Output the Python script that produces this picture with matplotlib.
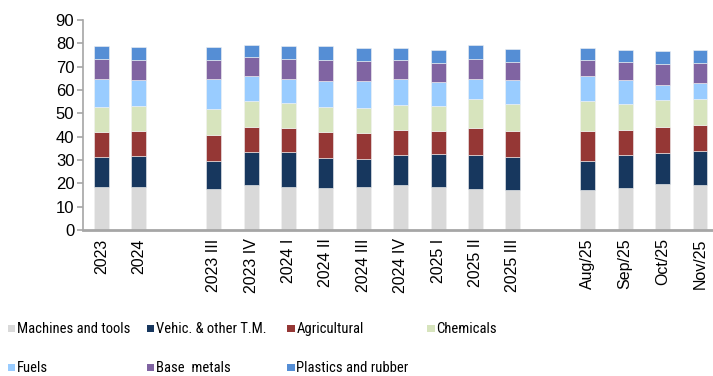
import matplotlib
matplotlib.use("Agg")
import matplotlib.pyplot as plt
from matplotlib.patches import Rectangle

plt.rcParams["font.family"] = ["Liberation Sans", "DejaVu Sans"]

labels = ["2023", "2024", "", "2023 III", "2023 IV", "2024 I", "2024 II", "2024 III",
          "2024 IV", "2025 I", "2025 II", "2025 III", "", "Aug/25", "Sep/25", "Oct/25", "Nov/25"]

categories = ["Machines and tools", "Vehic. & other T.M.", "Agricultural", "Chemicals",
              "Fuels", "Base  metals", "Plastics and rubber"]
colors = ["#D9D9D9", "#17375E", "#953735", "#D7E4BD", "#99CCFF", "#8064A2", "#558ED5"]

# one entry per slot, None where the gap between groups goes
machines = [18.3, 18.6, None, 17.6, 19.3, 18.6, 18.1, 18.4, 19.4, 18.3, 17.7, 17.3, None, 17.0, 17.9, 19.7, 19.4]
vehicles = [12.8, 13.3, None, 12.1, 14.3, 14.7, 12.9, 12.2, 12.6, 14.1, 14.3, 14.1, None, 12.7, 14.1, 13.4, 14.3]
agricultural = [10.8, 10.7, None, 10.9, 10.7, 10.6, 10.9, 10.8, 10.9, 10.2, 11.9, 11.2, None, 12.9, 11.0, 11.2, 11.2]
chemicals = [11.0, 10.7, None, 11.1, 11.0, 10.7, 11.0, 11.0, 10.8, 10.7, 12.1, 11.5, None, 12.8, 10.9, 11.3, 11.2]
fuels = [12.0, 11.1, None, 13.0, 10.8, 10.1, 11.1, 11.6, 11.2, 10.0, 8.7, 10.0, None, 10.6, 10.5, 6.7, 7.0]
base_metals = [8.2, 8.3, None, 8.3, 7.9, 8.4, 8.7, 8.3, 7.8, 8.1, 8.4, 7.9, None, 6.7, 7.5, 8.7, 8.5]
plastics = [5.8, 5.6, None, 5.6, 5.4, 5.6, 6.0, 5.6, 5.4, 5.9, 6.2, 5.4, None, 5.4, 5.2, 5.6, 5.4]

series = [machines, vehicles, agricultural, chemicals, fuels, base_metals, plastics]

fig = plt.figure(figsize=(7.13, 3.76), dpi=100)
ax = fig.add_axes([0.116, 0.3883, 0.892, 0.5585])

x = list(range(len(labels)))
bottoms = [0.0] * len(labels)
for vals, col in zip(series, colors):
    xs = [i for i in x if vals[i] is not None]
    hs = [vals[i] for i in xs]
    bs = [bottoms[i] for i in xs]
    ax.bar(xs, hs, bottom=bs, width=0.4, color=col, edgecolor="#F2F2F2", linewidth=0.4)
    for i in xs:
        bottoms[i] += vals[i]

ax.set_xlim(-0.5, len(labels) - 0.5)
ax.set_ylim(0, 90)
ax.set_yticks(range(0, 91, 10))
ax.set_yticklabels([str(v) for v in range(0, 91, 10)], fontsize=12, fontfamily="Liberation Sans")
ax.tick_params(axis="y", length=4, color="#A6A6A6", width=1.2, pad=2)
ax.set_xticks([i for i in x if labels[i]])
ax.set_xticklabels([l for l in labels if l], rotation=90, fontsize=11.5, fontfamily="Liberation Sans")
ax.tick_params(axis="x", length=0, pad=6)

for side in ["top", "right"]:
    ax.spines[side].set_visible(False)
ax.spines["left"].set_color("#A6A6A6")
ax.spines["left"].set_linewidth(1.2)
ax.spines["bottom"].set_color("#A6A6A6")
ax.spines["bottom"].set_linewidth(2)

# legend laid out on a 4-column grid, narrow face for the labels
col_x = [0.011, 0.206, 0.403, 0.599]
row_y = [1 - 329 / 376, 1 - 368 / 376]
for k, (name, col) in enumerate(zip(categories, colors)):
    cx = col_x[k % 4]
    cy = row_y[k // 4]
    fig.add_artist(Rectangle((cx, cy - 0.009), 0.0105, 0.02, transform=fig.transFigure,
                             facecolor=col, edgecolor="none"))
    fig.text(cx + 0.0125, cy, name, fontsize=10.5, va="center", ha="left",
             fontfamily="Roboto Condensed")

fig.savefig("out.png", dpi=100)
